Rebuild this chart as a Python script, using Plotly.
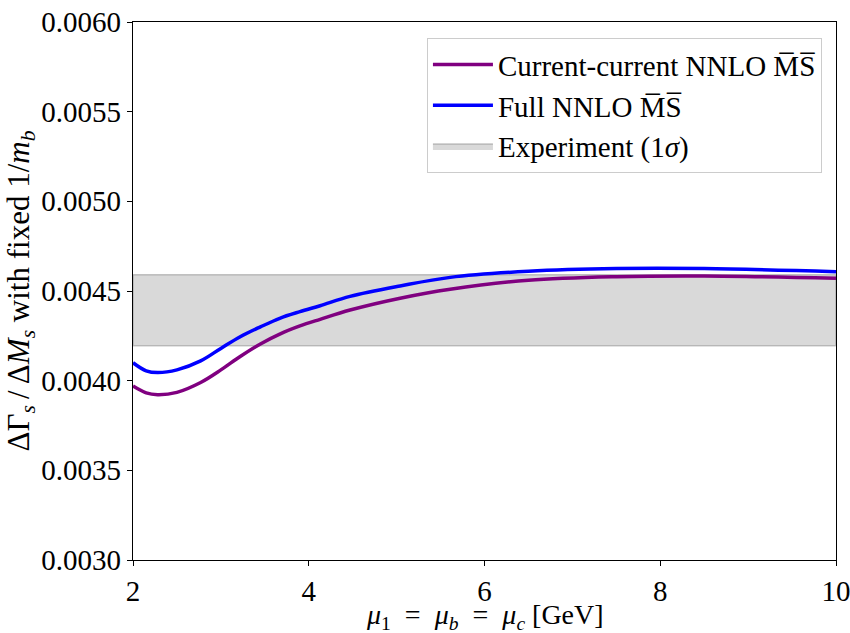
import plotly.graph_objects as go

mu = [2.0, 2.15, 2.28, 2.5, 2.77, 3.0, 3.22, 3.45, 3.67, 3.9, 4.13, 4.47, 5.04, 5.61, 6.5, 7.5, 8.5, 10.0]
full_nnlo = [0.004100, 0.004055, 0.004045, 0.004060, 0.004110, 0.004180, 0.004245, 0.004300, 0.004348,
             0.004385, 0.004418, 0.004470, 0.004528, 0.004576, 0.004610, 0.004625, 0.004625, 0.004608]
cc_nnlo = [0.003970, 0.003932, 0.003922, 0.003935, 0.003990, 0.004060, 0.004135, 0.004205, 0.004260,
           0.004305, 0.004342, 0.004394, 0.004460, 0.004510, 0.004560, 0.004580, 0.004584, 0.004571]
exp_lo = 0.004195
exp_hi = 0.004590
x_range = [2, 10]
y_range = [0.0030, 0.0060]
x_ticks = [2, 4, 6, 8, 10]
y_ticks = [0.0030, 0.0035, 0.0040, 0.0045, 0.0050, 0.0055, 0.0060]
x_title = "<i>μ</i><sub>1</sub>\u2002=\u2002<i>μ<sub>b</sub></i>\u2002=\u2002<i>μ<sub>c</sub></i> [GeV]"
y_title = "ΔΓ<sub><i>s</i></sub>\u2009/\u2009Δ<i>M<sub>s</sub></i> with fixed 1/<i>m<sub>b</sub></i>"

FONT = "Liberation Serif, serif"

fig = go.Figure()
fig.add_trace(go.Scatter(
    x=[x_range[0], x_range[1], x_range[1], x_range[0], x_range[0]],
    y=[exp_lo, exp_lo, exp_hi, exp_hi, exp_lo],
    fill="toself", fillcolor="rgba(128,128,128,0.3)",
    line=dict(color="rgba(128,128,128,0.45)", width=1.5),
    mode="lines", name="Experiment (1<i>σ</i>)", legendrank=3, hoverinfo="skip"))
fig.add_trace(go.Scatter(x=mu, y=cc_nnlo, mode="lines",
                         line=dict(color="purple", width=3.5, shape="spline", smoothing=1.0),
                         name="Current-current NNLO M\u0305S\u0305", legendrank=1))
fig.add_trace(go.Scatter(x=mu, y=full_nnlo, mode="lines",
                         line=dict(color="blue", width=3.5, shape="spline", smoothing=1.0),
                         name="Full NNLO M\u0305S\u0305", legendrank=2))

axis_common = dict(showline=True, linecolor="black", linewidth=1.2, mirror=True, showgrid=False, zeroline=False,
                   ticks="outside", ticklen=5, tickcolor="black", tickwidth=1.2, automargin=False,
                   ticklabeloverflow="allow",
                   tickfont=dict(family=FONT, size=29, color="black"))
fig.update_xaxes(range=x_range, tickvals=x_ticks, ticktext=[str(v) for v in x_ticks], **axis_common)
fig.update_yaxes(range=y_range, tickvals=y_ticks, ticktext=[f"{v:.4f}" for v in y_ticks],
                 title=dict(text=y_title, font=dict(family=FONT, size=31, color="black"), standoff=2),
                 **axis_common)
fig.add_annotation(text=x_title, xref="paper", yref="paper", x=0.5, y=0, xanchor="center",
                   yanchor="middle", yshift=-56, showarrow=False,
                   font=dict(family=FONT, size=28, color="black"))
fig.update_layout(
    width=850, height=633,
    margin=dict(l=133, r=14, t=22, b=73),
    plot_bgcolor="white", paper_bgcolor="white",
    showlegend=True,
    legend=dict(x=0.98, y=0.97, xanchor="right", yanchor="top",
                bgcolor="rgba(255,255,255,0.8)", bordercolor="#cccccc", borderwidth=1,
                font=dict(family=FONT, size=29, color="black"), itemwidth=60,
                tracegroupgap=0),
)
fig.write_html("out.html", config={"displayModeBar": False},
               post_script="document.body.style.margin='0';document.body.style.overflow='hidden';")
